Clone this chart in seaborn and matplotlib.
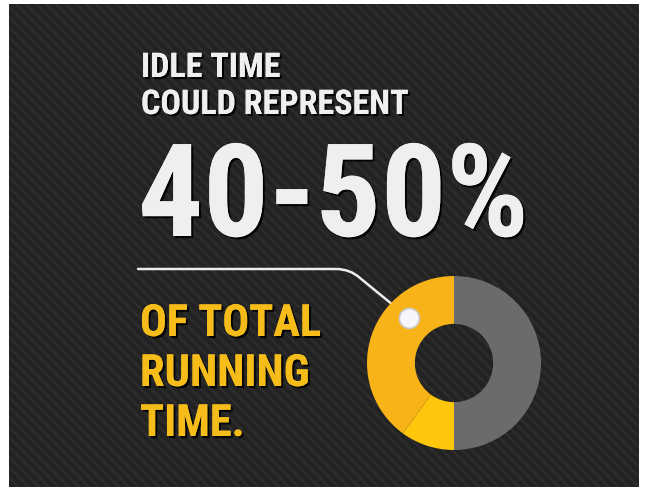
import matplotlib
matplotlib.use("Agg")
import matplotlib.pyplot as plt
import matplotlib.patheffects as pe
from matplotlib.patches import Rectangle, Circle, PathPatch
from matplotlib.path import Path
import numpy as np
import seaborn as sns

# Share of total running time
segments = ["Running", "Idle (low)", "Idle (high)"]
shares = [50, 10, 40]
headline = ["IDLE TIME", "COULD REPRESENT"]
big_figure = "40-50%"
tagline = ["OF TOTAL", "RUNNING", "TIME."]

sns.set_theme(style="dark")
plt.rcParams["font.family"] = ["Roboto Condensed", "Barlow Condensed", "DejaVu Sans"]

W, H = 649, 489
fig = plt.figure(figsize=(W / 100, H / 100), dpi=100, facecolor="white")

# Background panel in pixel coordinates
bg = fig.add_axes([0, 0, 1, 1])
bg.set_xlim(0, W)
bg.set_ylim(H, 0)
bg.axis("off")
px0, py0, pw, ph = 9, 5, 630, 483
panel = Rectangle((px0, py0), pw, ph, facecolor="#222222", edgecolor="none", zorder=0)
bg.add_patch(panel)
for c in np.arange(px0 - ph, px0 + pw, 10):
    ln, = bg.plot([c, c + ph], [py0, py0 + ph], color="#2d2d2d", lw=1.7,
                  solid_capstyle="butt", zorder=1)
    ln.set_clip_path(panel)

shadow = [pe.withSimplePatchShadow(offset=(1.5, -1.5), shadow_rgbFace="black", alpha=0.9),
          pe.Normal()]

white = "#efefef"
yellow = "#f6bd1a"
for txt, base in zip(headline, [78, 115]):
    bg.text(141, base, txt, color=white, fontsize=24.5, fontweight="bold",
            va="baseline", ha="left", path_effects=shadow, zorder=5)
bg.text(138, 237, big_figure, color=white, fontsize=93, fontweight="bold",
        va="baseline", ha="left", path_effects=shadow, zorder=5)
for txt, base in zip(tagline, [337, 387, 437]):
    bg.text(140, base, txt, color=yellow, fontsize=32, fontweight="bold",
            va="baseline", ha="left", path_effects=shadow, zorder=5)

# Donut chart
cx, cy, R = 454, 364, 87
dax = fig.add_axes([(cx - R) / W, (H - cy - R) / H, 2 * R / W, 2 * R / H])
dax.set_facecolor("none")
colors = ["#6b6b6b", "#ffc70b", "#f8b318"]
ring = 0.55
dax.pie(shares, colors=colors, startangle=90, counterclock=False, radius=1,
        wedgeprops=dict(width=ring, edgecolor="none", linewidth=0))
dax.set_xlim(-1, 1)
dax.set_ylim(-1, 1)
dax.axis("off")

# Callout marker and leader line with a rounded bend
rm = 1 - ring / 2
mx, my = rm * np.cos(np.deg2rad(135)), rm * np.sin(np.deg2rad(135))
dax.add_patch(Circle((mx, my), 0.115, facecolor="#f7f7fb", edgecolor="#c8c8c8",
                     lw=1.2, zorder=6))
mpx = cx + mx * R
mpy = cy - my * R
leader = Path([(138, 270), (336, 270), (350, 270), (360, 279), (mpx, mpy)],
              [Path.MOVETO, Path.LINETO, Path.CURVE3, Path.CURVE3, Path.LINETO])
bg.add_patch(PathPatch(leader, facecolor="none", edgecolor="#ececec", lw=1.8,
                       capstyle="round", zorder=4))

fig.savefig("out.png", dpi=100, facecolor="white")
